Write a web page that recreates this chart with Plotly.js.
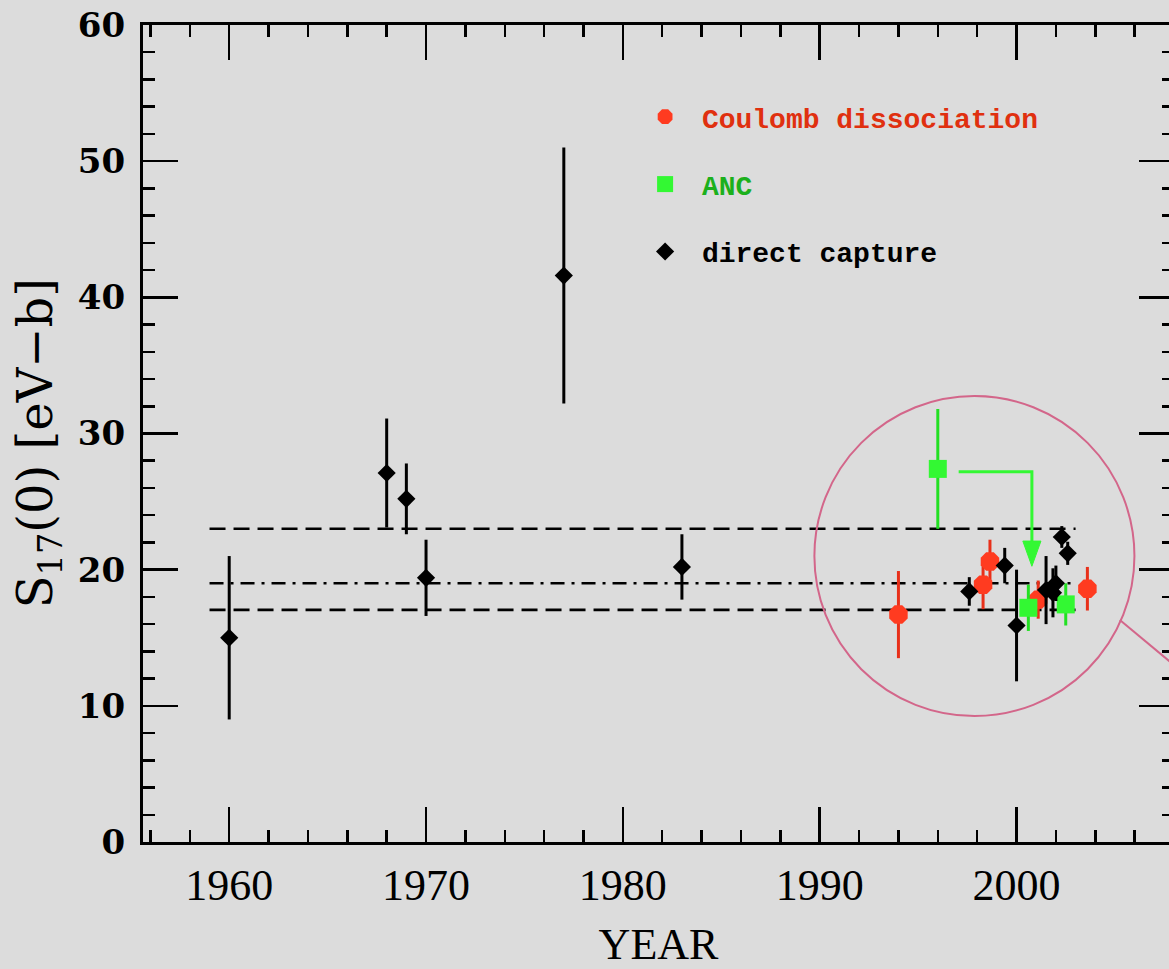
<!DOCTYPE html>
<html>
<head>
<meta charset="utf-8">
<script src="https://cdn.plot.ly/plotly-3.0.1.min.js"></script>
<style>
html,body{margin:0;padding:0;overflow:hidden;background:#dcdcdc;}
#chart{width:1180px;height:969px;}
</style>
</head>
<body>
<div id="chart"></div>
<script>
// ---- data ----
const cdYear  = [1994.0, 1998.3, 1998.65, 2001.1, 2003.6];
const cdS17   = [16.7, 18.9, 20.6, 17.8, 18.6];
const cdErr   = [3.2, 1.8, 1.6, 1.4, 1.6];

const ancYear = [1996.0, 2000.6, 2002.5];
const ancS17  = [27.4, 17.2, 17.45];
const ancErr  = [4.4, 1.7, 1.55];

const dcYear  = [1960, 1968, 1969, 1970, 1977, 1983, 1997.6, 1999.4, 2000.0, 2001.5, 2001.85, 2002.0, 2002.3, 2002.6];
const dcS17   = [15.0, 27.1, 25.2, 19.4, 41.6, 20.2, 18.4, 20.3, 15.9, 18.5, 18.3, 19.0, 22.4, 21.2];
const dcErr   = [6.0, 4.0, 2.6, 2.8, 9.4, 2.4, 1.05, 1.3, 4.1, 2.5, 1.8, 1.3, 0.8, 0.85];

const bandYears = [1959, 2003];
const bandUpper = [23, 23];
const bandMean  = [19, 19];
const bandLower = [17.05, 17.05];

const arrowX = [1997.06, 2000.78, 2000.78];
const arrowY = [27.2, 27.2, 22.1];
const arrowTip = 20.25;

const xTickVals = [1960, 1970, 1980, 1990, 2000];
const yTickVals = [0, 10, 20, 30, 40, 50, 60];

const legendNames = ['Coulomb dissociation', 'ANC', 'direct capture'];
const yTitle = 'S<sub>17</sub>(0) [eV\u2212b]';
const xTitle = 'YEAR';

const RED = '#ff3b20', REDBAR = '#e8301a', REDTXT = '#e0300f';
const GRN = '#33f833', GRNBAR = '#22e022', GRNTXT = '#1cb01c';

function bandTrace(y, dash){
  return {x: bandYears, y: y, mode: 'lines', showlegend: false, hoverinfo: 'skip',
          line: {color: 'black', width: 2.6, dash: dash}};
}
function legName(txt, col){
  const t = '\u00a0' + txt;
  return col ? '<span style="color:' + col + '">' + t + '</span>' : t;
}

const traces = [
  bandTrace(bandUpper, '16px,8px'),
  bandTrace(bandMean, '14px,7px,3px,7px'),
  bandTrace(bandLower, '16px,8px'),
  {x: arrowX, y: arrowY, mode: 'lines', showlegend: false, hoverinfo: 'skip',
   line: {color: GRN, width: 3}},
  {x: cdYear, y: cdS17, mode: 'markers', type: 'scatter',
   name: legName(legendNames[0], REDTXT), legendgroup: 'a',
   marker: {symbol: 'octagon', size: 20, color: RED},
   error_y: {type: 'data', array: cdErr, visible: true, color: REDBAR, thickness: 3, width: 0}},
  {x: ancYear, y: ancS17, mode: 'markers', type: 'scatter',
   name: legName(legendNames[1], GRNTXT), legendgroup: 'b',
   marker: {symbol: 'square', size: 18, color: GRN},
   error_y: {type: 'data', array: ancErr, visible: true, color: GRNBAR, thickness: 3, width: 0}},
  {x: dcYear, y: dcS17, mode: 'markers', type: 'scatter',
   name: legName(legendNames[2], null), legendgroup: 'c',
   marker: {symbol: 'diamond', size: 14, color: 'black'},
   error_y: {type: 'data', array: dcErr, visible: true, color: 'black', thickness: 3, width: 0}}
];

const halfW = 0.46;
const layout = {
  width: 1180, height: 969,
  margin: {l: 143, r: 6, t: 25, b: 127},
  paper_bgcolor: '#dcdcdc', plot_bgcolor: '#dcdcdc',
  showlegend: true,
  legend: {x: 0.487, y: 0.918, xanchor: 'left', yanchor: 'top', bgcolor: 'rgba(0,0,0,0)',
           font: {family: 'Liberation Mono', size: 28, color: 'black', weight: 'bold'},
           tracegroupgap: 28, itemsizing: 'trace'},
  xaxis: {range: [1955.62, 2008], tickvals: xTickVals, ticktext: xTickVals.map(String),
          ticks: 'inside', ticklen: 35, tickwidth: 2.5, tickcolor: 'black',
          minor: {dtick: 2, tick0: 1960, ticks: 'inside', ticklen: 12, tickwidth: 2.5, tickcolor: 'black'},
          showline: true, linewidth: 3, linecolor: 'black', mirror: 'allticks',
          showgrid: false, zeroline: false, ticklabelstandoff: 2,
          tickfont: {family: 'Liberation Serif', size: 44, color: 'black'},
          title: {text: xTitle, font: {family: 'Liberation Serif', size: 44, color: 'black'}, standoff: 30}},
  yaxis: {range: [0, 60], tickvals: yTickVals, ticktext: yTickVals.map(String),
          ticks: 'inside', ticklen: 35, tickwidth: 2.5, tickcolor: 'black',
          minor: {dtick: 2, tick0: 0, ticks: 'inside', ticklen: 12, tickwidth: 2.5, tickcolor: 'black'},
          showline: true, linewidth: 3, linecolor: 'black', mirror: 'allticks',
          showgrid: false, zeroline: false, ticklabelstandoff: 8,
          tickfont: {family: 'DejaVu Serif', size: 34, color: 'black', weight: 'bold'}},
  annotations: [
    {text: yTitle, xref: 'paper', yref: 'paper', x: -0.1018, y: 0.488, textangle: -90,
     xanchor: 'center', yanchor: 'middle', showarrow: false,
     font: {family: 'DejaVu Serif', size: 48, color: 'black'}}
  ],
  shapes: [
    {type: 'path', xref: 'x', yref: 'y', layer: 'above',
     path: 'M ' + (arrowX[2] - halfW) + ',' + arrowY[2] + ' L ' + (arrowX[2] + halfW) + ',' + arrowY[2] +
           ' L ' + arrowX[2] + ',' + arrowTip + ' Z',
     fillcolor: GRN, line: {color: GRN, width: 1}},
    {type: 'circle', xref: 'x', yref: 'y', x0: 1989.73, x1: 2005.99, y0: 9.25, y1: 32.75,
     line: {color: '#d3668a', width: 2}, layer: 'above'},
    {type: 'line', xref: 'x', yref: 'y', x0: 2005.25, y0: 16.3, x1: 2008, y1: 13.0,
     line: {color: '#d3668a', width: 2}, layer: 'above'}
  ]
};

Plotly.newPlot('chart', traces, layout, {displayModeBar: false, staticPlot: true});
</script>
</body>
</html>
